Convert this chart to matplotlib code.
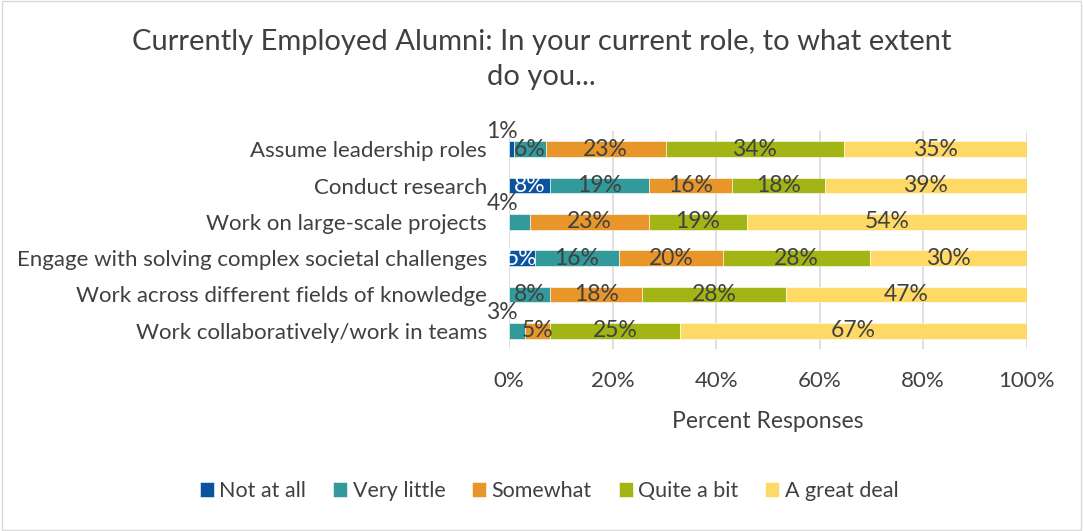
import numpy as np
import matplotlib
matplotlib.use('Agg')
from matplotlib import pyplot as plt

categories = ['Assume leadership roles',
              'Conduct research',
              'Work on large-scale projects',
              'Engage with solving complex societal challenges',
              'Work across different fields of knowledge',
              'Work collaboratively/work in teams']
series = ['Not at all', 'Very little', 'Somewhat', 'Quite a bit', 'A great deal']
not_at_all = [1, 8, 0, 5, 0, 0]
very_little = [6, 19, 4, 16, 8, 3]
somewhat = [23, 16, 23, 20, 18, 5]
quite_a_bit = [34, 18, 19, 28, 28, 25]
great_deal = [35, 39, 54, 30, 47, 67]
colors = ['#0B539F', '#329A9A', '#E8962A', '#A2B514', '#FFD966']
x_ticks = [0, 20, 40, 60, 80, 100]

plt.rcParams['font.family'] = ['Lato', 'DejaVu Sans']

fig = plt.figure(figsize=(10.83, 5.31), dpi=100)
ax = fig.add_axes([0.470, 0.343, 0.478, 0.410])

values = np.array([not_at_all, very_little, somewhat, quite_a_bit, great_deal], dtype=float)
# scale to 100% like Excel's 100% stacked bar
totals = values.sum(axis=0)
shares = values / totals * 100
y = np.arange(len(categories))
left = np.zeros(len(categories))
fs = 16
for i, name in enumerate(series):
    ax.barh(y, shares[i], left=left, height=0.43, color=colors[i], label=name,
            edgecolor='white', linewidth=0.4, zorder=3)
    for j in range(len(categories)):
        v = values[i, j]
        if v <= 0:
            continue
        cx = left[j] + shares[i, j] / 2
        txt_color = 'white' if i == 0 else '#404040'
        if v < 5 and i > 0 or (i == 0 and v < 3):
            # small segments: label sits above-left like Excel does
            ax.annotate('%d%%' % v, (left[j], y[j]), xytext=(-5, 13),
                        textcoords='offset points', ha='center', va='center',
                        fontsize=16.5, color='#404040', zorder=5)
        else:
            ax.text(cx, y[j], '%d%%' % v, ha='center', va='center',
                    fontsize=16.5, color=txt_color, zorder=5)
    left += shares[i]

ax.set_xlim(0, 100)
ax.set_ylim(len(categories) - 0.5, -0.5)
ax.set_yticks(y)
ax.set_yticklabels(categories, fontsize=fs, color='#404040')
ax.set_xticks(x_ticks)
ax.set_xticklabels(['%d%%' % t for t in x_ticks], fontsize=fs, color='#404040')
ax.tick_params(length=0, pad=16)
ax.tick_params(axis='x', pad=16)
ax.grid(axis='x', color='#D9D9D9', linewidth=1.2, zorder=0)
for s in ax.spines.values():
    s.set_visible(False)
ax.set_xlabel('Percent Responses', fontsize=16.5, color='#404040', labelpad=14)

fig.suptitle('Currently Employed Alumni: In your current role, to what extent\ndo you...',
             fontsize=21, color='#404040', y=0.945, linespacing=1.4)

fig.legend(loc='center', bbox_to_anchor=(0.507, 0.075), ncol=5, frameon=False,
           fontsize=15.5, handlelength=0.65, handleheight=0.7, handletextpad=0.25,
           columnspacing=1.25, labelcolor='#404040')

fig.patches.append(plt.Rectangle((0.002, 0.002), 0.996, 0.996, transform=fig.transFigure,
                                 fill=False, edgecolor='#D9D9D9', linewidth=1))

fig.savefig('out.png', dpi=100, facecolor='white')
